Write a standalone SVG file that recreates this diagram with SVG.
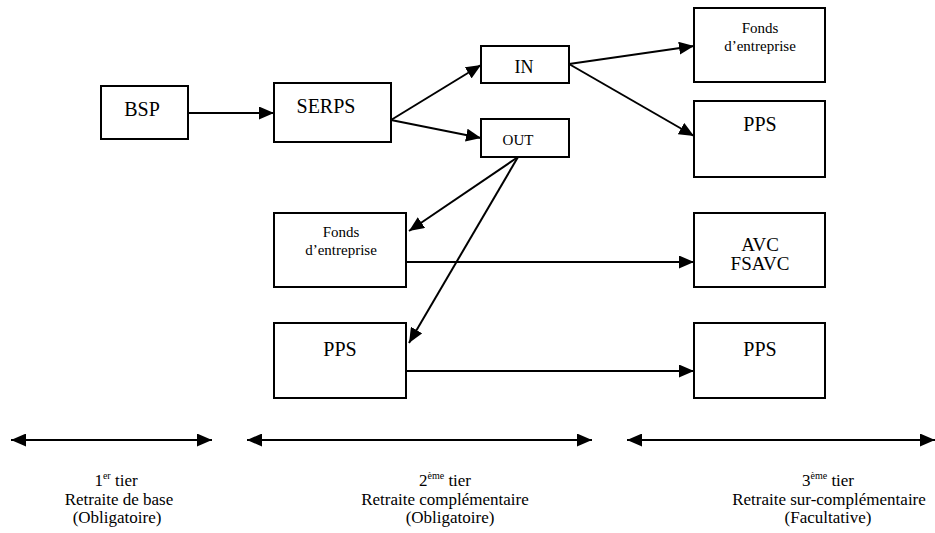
<svg xmlns="http://www.w3.org/2000/svg" width="935" height="533" viewBox="0 0 935 533" font-family="'Liberation Serif', 'DejaVu Serif', serif">
<style>
  .box { fill: #fff; stroke: #000; stroke-width: 2; }
  .t { font-family: 'Liberation Serif', 'DejaVu Serif', serif; fill: #000; text-anchor: middle; }
  .big { font-size: 20px; }
  .avc { font-size: 19px; }
  .mid { font-size: 17px; }
  .in { font-size: 18px; }
  .sm { font-size: 15px; }
  .out { font-size: 15px; }
  .con line { stroke: #000; stroke-width: 2; fill: none; }
  .arr { marker-end: url(#ah); }
  .dbl { marker-end: url(#ah); marker-start: url(#ah); }
</style>
<defs>
  <marker id="ah" viewBox="0 0 15 13" refX="15" refY="6.5" markerWidth="15" markerHeight="13" markerUnits="userSpaceOnUse" orient="auto-start-reverse">
    <path d="M0,0 L15,6.5 L0,13 Z" fill="#000"/>
  </marker>
</defs>
<rect width="935" height="533" fill="#fff"/>

<g id="bsp"><rect class="box" x="101" y="86" width="87" height="53"/><text class="t big" x="142" y="116">BSP</text></g>
<g id="serps"><rect class="box" x="274" y="83" width="117" height="59"/><text class="t big" x="326" y="113">SERPS</text></g>
<g id="in"><rect class="box" x="481" y="46" width="88" height="37"/><text class="t in" x="524" y="73">IN</text></g>
<g id="out"><rect class="box" x="481" y="119" width="88" height="38"/><text class="t out" x="518" y="145">OUT</text></g>
<g id="fonds-in"><rect class="box" x="694" y="8" width="131" height="74"/><text class="t sm" x="760" y="33">Fonds</text><text class="t sm" x="760" y="51">d’entreprise</text></g>
<g id="pps-in"><rect class="box" x="694" y="101" width="131" height="76"/><text class="t big" x="760" y="131">PPS</text></g>
<g id="fonds-out"><rect class="box" x="274" y="213" width="132" height="74"/><text class="t sm" x="341" y="237">Fonds</text><text class="t sm" x="341" y="255">d’entreprise</text></g>
<g id="avc"><rect class="box" x="694" y="213" width="131" height="74"/><text class="t avc" x="760" y="251">AVC</text><text class="t avc" x="760" y="270">FSAVC</text></g>
<g id="pps-out"><rect class="box" x="274" y="323" width="132" height="75"/><text class="t big" x="340" y="356">PPS</text></g>
<g id="pps-3"><rect class="box" x="694" y="323" width="131" height="75"/><text class="t big" x="760" y="356">PPS</text></g>

<g id="connectors" class="con">
  <line class="arr" x1="188" y1="113" x2="274" y2="113"/>
  <line class="arr" x1="391" y1="120" x2="481" y2="65"/>
  <line class="arr" x1="391" y1="120" x2="481" y2="138"/>
  <line class="arr" x1="569" y1="64" x2="694" y2="46"/>
  <line class="arr" x1="569" y1="64" x2="694" y2="136"/>
  <line class="arr" x1="518" y1="157" x2="409" y2="231"/>
  <line class="arr" x1="518" y1="157" x2="409" y2="343"/>
  <line class="arr" x1="406" y1="262" x2="694" y2="262"/>
  <line class="arr" x1="406" y1="371" x2="694" y2="371"/>
  <line class="dbl" x1="11" y1="440" x2="212" y2="440"/>
  <line class="dbl" x1="247" y1="440" x2="592" y2="440"/>
  <line class="dbl" x1="627" y1="440" x2="935" y2="440"/>
</g>

<g id="tier1">
  <text class="t mid" x="116" y="486">1<tspan font-size="10" dy="-7">er</tspan><tspan dy="7"> tier</tspan></text>
  <text class="t mid" x="119" y="504.5">Retraite de base</text>
  <text class="t mid" x="117" y="523">(Obligatoire)</text>
</g>
<g id="tier2">
  <text class="t mid" x="445" y="486">2<tspan font-size="10" dy="-7">ème</tspan><tspan dy="7"> tier</tspan></text>
  <text class="t mid" x="445" y="504.5">Retraite complémentaire</text>
  <text class="t mid" x="450" y="523">(Obligatoire)</text>
</g>
<g id="tier3">
  <text class="t mid" x="828" y="486">3<tspan font-size="10" dy="-7">ème</tspan><tspan dy="7"> tier</tspan></text>
  <text class="t mid" x="829" y="504.5">Retraite sur-complémentaire</text>
  <text class="t mid" x="828" y="523">(Facultative)</text>
</g>
</svg>
